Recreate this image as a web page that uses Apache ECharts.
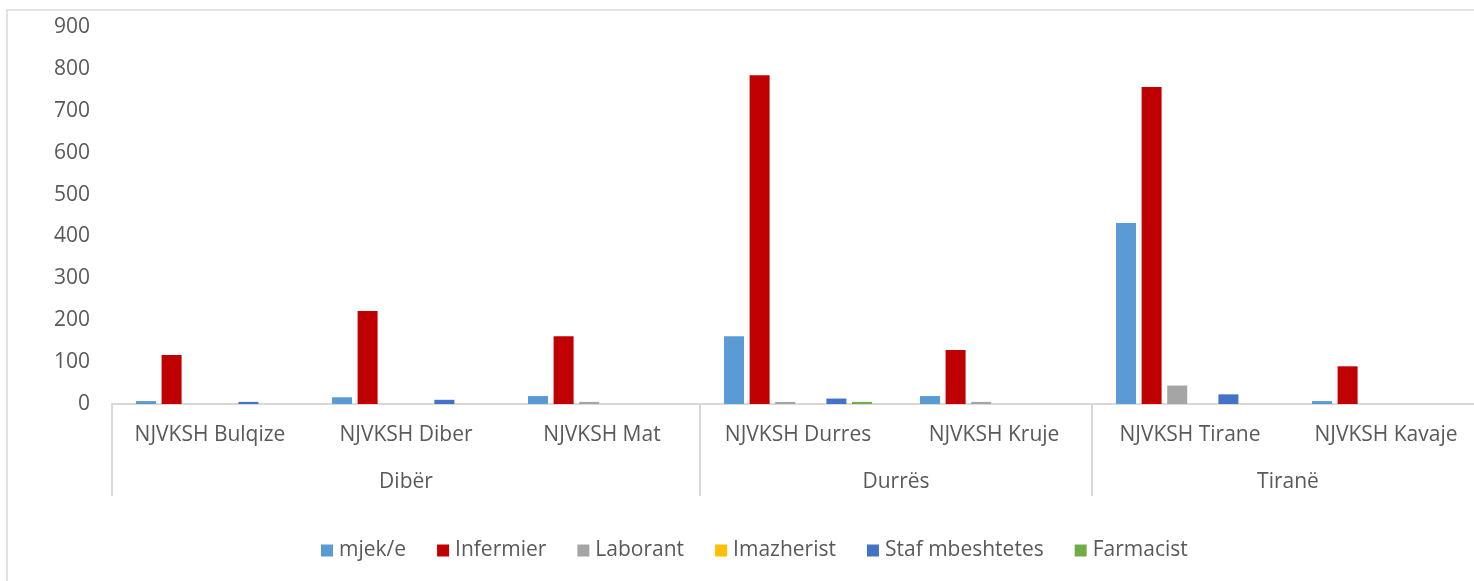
<!DOCTYPE html>
<html>
<head>
<meta charset="utf-8">
<script src="https://cdn.jsdelivr.net/npm/echarts@6/dist/echarts.min.js"></script>
<style>
  html, body { margin: 0; padding: 0; background: #fff; }
  #chart { width: 1474px; height: 581px; }
</style>
</head>
<body>
<div id="chart"></div>
<script>
// te dhenat
const units = ['NJVKSH Bulqize', 'NJVKSH Diber', 'NJVKSH Mat', 'NJVKSH Durres', 'NJVKSH Kruje', 'NJVKSH Tirane', 'NJVKSH Kavaje']
const regions = ['Dibër', 'Durrës', 'Tiranë']
const regionSpan = [3, 2, 2]

const mjek = [7, 16, 19, 162, 19, 432, 7]
const infermier = [117, 222, 162, 785, 129, 757, 90]
const laborant = [0, 0, 5, 5, 5, 44, 0]
const imazherist = [0, 0, 0, 0, 0, 0, 0]
const staf = [5, 10, 0, 13, 0, 23, 0]
const farmacist = [0, 0, 0, 5, 0, 0, 0]

const yTicks = [0, 900, 100]

// 2 gjysme-slote per njesi, per te vendosur emrat e rretheve ne mes
const halfSlots = []
const boundaries = [0]
const regionAt = {}
let pos = 0
regions.forEach(function (r, i) {
  regionAt[pos + regionSpan[i]] = r
  pos += regionSpan[i] * 2
  boundaries.push(pos)
})
for (let i = 0; i <= units.length * 2; i++) {
  halfSlots.push(regionAt[i] || '')
}
const lastSlot = halfSlots.length - 1

const font = 'Open Sans'
const txt = '#595959'

function bar (name, data, color) {
  return {
    name: name,
    type: 'bar',
    data: data,
    barWidth: 20,
    barGap: '28%',
    itemStyle: { color: color },
    xAxisIndex: 0
  }
}

const chart = echarts.init(document.getElementById('chart'))
chart.setOption({
  animation: false,
  textStyle: { fontFamily: font },
  graphic: [{
    type: 'rect',
    shape: { x: 7, y: 10, width: 1500, height: 600 },
    style: { fill: 'none', stroke: '#d9d9d9', lineWidth: 1.5 },
    silent: true,
    z: -1
  }],
  // plot-i vazhdon pak pertej skajit te djathte, si ne origjinal
  grid: { left: 112, top: 27, width: 1372, height: 377, outerBoundsMode: 'none', containLabel: false },
  legend: {
    top: 535,
    left: 316,
    itemWidth: 12,
    itemHeight: 12,
    itemGap: 31,
    icon: 'rect',
    textStyle: { color: txt, fontSize: 21, fontFamily: font, padding: [0, 0, 0, 1] },
    data: ['mjek/e', 'Infermier', 'Laborant', 'Imazherist', 'Staf mbeshtetes', 'Farmacist']
  },
  xAxis: [{
    type: 'category',
    data: units,
    position: 'bottom',
    axisLine: { lineStyle: { color: '#d9d9d9', width: 2 } },
    axisTick: { show: false },
    axisLabel: { color: txt, fontSize: 21, margin: 21, interval: 0 }
  }, {
    type: 'category',
    data: halfSlots,
    boundaryGap: false,
    position: 'bottom',
    axisLine: { show: false },
    axisTick: {
      show: true,
      length: 92,
      interval: function (idx) { return idx !== lastSlot && boundaries.indexOf(idx) >= 0 },
      lineStyle: { color: '#d9d9d9', width: 2 }
    },
    axisLabel: {
      color: txt,
      fontSize: 21,
      margin: 68,
      interval: function (idx, val) { return val !== '' }
    }
  }],
  yAxis: {
    type: 'value',
    min: yTicks[0],
    max: yTicks[1],
    interval: yTicks[2],
    axisLine: { show: false },
    axisTick: { show: false },
    splitLine: { show: false },
    axisLabel: { color: txt, fontSize: 21, margin: 22 }
  },
  series: [
    bar('mjek/e', mjek, '#5B9BD5'),
    bar('Infermier', infermier, '#C00000'),
    bar('Laborant', laborant, '#A5A5A5'),
    bar('Imazherist', imazherist, '#FFC000'),
    bar('Staf mbeshtetes', staf, '#4472C4'),
    bar('Farmacist', farmacist, '#70AD47')
  ]
})
</script>
</body>
</html>
